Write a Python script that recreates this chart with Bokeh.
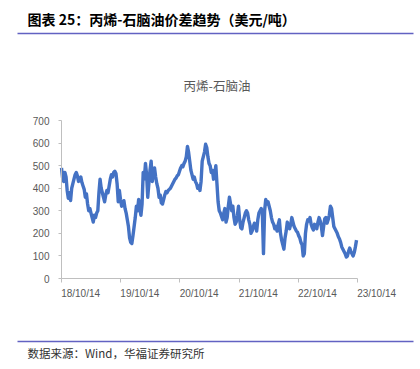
import pandas as pd
from bokeh.plotting import figure
from bokeh.models import Range1d, FixedTicker, LinearAxis, DatetimeAxis, ColumnDataSource
from bokeh.core.properties import value
from bokeh.embed import file_html
from bokeh.resources import INLINE

# ---- data (weekly sampling) ----
start_date = "2018-10-14"
spread_values = [
    490, 445, 430, 470, 450, 390, 355, 380, 345, 400, 420, 440, 460, 470, 455, 430, 440, 450, 425, 410,
    395, 360, 375, 330, 300, 310, 290, 270, 250, 280, 270, 290, 300, 380, 440, 400, 380, 360, 340, 370,
    390, 380, 410, 440, 460, 450, 470, 475, 465, 420, 340, 390, 350, 320, 330, 345, 310, 290, 260, 230,
    180, 160, 155, 190, 230, 270, 320, 300, 350, 310, 280, 330, 470, 440, 510, 460, 360, 420, 480, 520,
    430, 470, 490, 450, 420, 400, 360, 370, 335, 330, 350, 370, 385, 380, 390, 395, 400, 410, 420, 430,
    440, 445, 455, 460, 475, 490, 500, 495, 510, 520, 540, 585, 560, 520, 480, 460, 440, 450, 430, 420,
    400, 410, 390, 430, 520, 540, 560, 595, 580, 540, 510, 500, 470, 480, 440, 460, 500, 420, 340, 300,
    290, 275, 260, 290, 310, 250, 270, 320, 360, 330, 300, 320, 270, 240, 250, 280, 320, 260, 225, 220,
    250, 270, 290, 300, 290, 260, 240, 200, 210, 230, 245, 230, 210, 260, 290, 300, 310, 290, 110, 300,
    350, 330, 340, 320, 300, 270, 250, 240, 220, 230, 210, 240, 260, 200, 170, 150, 130, 180, 210, 250,
    230, 220, 240, 270, 250, 230, 220, 210, 205, 190, 180, 160, 150, 100, 110, 200, 240, 260, 255, 270,
    240, 225, 215, 240, 230, 220, 250, 270, 255, 230, 190, 230, 265, 270, 245, 260, 280, 320, 310, 270,
    230, 220, 210, 200, 185, 175, 160, 140, 130, 120, 110, 95, 100, 120, 135, 120, 110, 100, 115, 140,
    170,
]
dates = pd.date_range(start_date, periods=len(spread_values), freq="7D")

x_tick_dates = ["2018-10-14", "2019-10-14", "2020-10-14",
                "2021-10-14", "2022-10-14", "2023-10-14"]
x_tick_labels = ["18/10/14", "19/10/14", "20/10/14",
                 "21/10/14", "22/10/14", "23/10/14"]
y_ticks = [0, 100, 200, 300, 400, 500, 600, 700]

main_title = "图表 25：丙烯-石脑油价差趋势（美元/吨）"
chart_title = "丙烯-石脑油"
source_text = "数据来源：Wind，华福证券研究所"

# ---- page geometry ----
W, H = 420, 369
AX_LEFT, AX_RIGHT = 61, 357     # page x of first / last date tick
AX_TOP, AX_BOTTOM = 120, 278    # page y of 700 / 0

CJK = "Noto Sans CJK SC"
AX = "#BFBFBF"
LBL = "#595959"
FONT = "Liberation Sans"
RULE = "#6262C2"


def ms(d):
    return int(pd.Timestamp(d).value // 10**6)

tick_ms = [ms(d) for d in x_tick_dates]
x0, x1 = tick_ms[0], tick_ms[-1]
sx = (AX_RIGHT - AX_LEFT) / (x1 - x0)
sy = (AX_BOTTOM - AX_TOP) / (y_ticks[-1] - y_ticks[0])
x_range = Range1d(x0 - AX_LEFT / sx, x0 + (W - AX_LEFT) / sx)
y_range = Range1d(y_ticks[0] - (H - AX_BOTTOM) / sy, y_ticks[-1] + AX_TOP / sy)

p = figure(width=W, height=H, output_backend="svg", toolbar_location=None,
           x_axis_type=None, y_axis_location=None,
           x_range=x_range, y_range=y_range,
           min_border=0, min_border_left=0, min_border_right=0,
           min_border_top=0, min_border_bottom=0)
p.outline_line_color = None
p.xgrid.grid_line_color = None
p.ygrid.grid_line_color = None
p.extra_x_ranges = {"page": Range1d(0, W)}
p.extra_y_ranges = {"page": Range1d(H, 0)}

# ---- data line ----
src = ColumnDataSource(dict(date=dates, v=spread_values))
p.line("date", "v", source=src, line_color="#4472C4", line_width=3.4,
       line_join="round")

# ---- axes (fixed inside the canvas) ----
yax = LinearAxis(ticker=FixedTicker(ticks=y_ticks), fixed_location=x0,
                 bounds=(y_ticks[0], y_ticks[-1]))
yax.axis_line_color = AX
yax.major_tick_line_color = AX
yax.major_tick_in = 0
yax.major_tick_out = 3
yax.minor_tick_line_color = None
yax.major_label_text_color = LBL
yax.major_label_text_font = FONT
yax.major_label_text_font_size = "10px"
yax.major_label_standoff = 9
p.add_layout(yax, "left")

xax = DatetimeAxis(ticker=FixedTicker(ticks=[], minor_ticks=tick_ms),
                   fixed_location=0, bounds=(x0, x1))
xax.axis_line_color = AX
xax.major_tick_line_color = None
xax.minor_tick_line_color = AX
xax.minor_tick_in = 0
xax.minor_tick_out = 4
p.add_layout(xax, "below")

offset = int(118 * 86400000)   # Excel places each date label starting at its tick
lab_ms = [t + offset for t in tick_ms]
xlab = DatetimeAxis(ticker=FixedTicker(ticks=lab_ms), fixed_location=0)
xlab.axis_line_color = None
xlab.major_tick_line_color = None
xlab.minor_tick_line_color = None
xlab.major_tick_out = 0
xlab.major_tick_in = 0
xlab.major_label_overrides = {t: s for t, s in zip(lab_ms, x_tick_labels)}
xlab.major_label_text_color = LBL
xlab.major_label_text_font = FONT
xlab.major_label_text_font_size = "10px"
xlab.major_label_standoff = 9
p.add_layout(xlab, "below")

# ---- header / footer decorations (page coordinates) ----
pg = dict(x_range_name="page", y_range_name="page")
p.text(x=[27], y=[18], text=[main_title], text_font=value(CJK),
       text_font_style="bold", text_font_size="14px", text_color="#000000",
       text_baseline="middle", text_align="left", **pg)
p.segment(x0=[17], y0=[33], x1=[413], y1=[33], line_color=RULE, line_width=1.3, **pg)
p.text(x=[216.5], y=[85], text=[chart_title], text_font=value(CJK),
       text_font_size="12.5px", text_color=LBL,
       text_baseline="middle", text_align="center", **pg)
p.segment(x0=[17], y0=[341], x1=[413], y1=[341], line_color=RULE, line_width=1.3, **pg)
p.text(x=[27], y=[352], text=[source_text], text_font=value(CJK),
       text_font_size="11.5px", text_color="#333333",
       text_baseline="middle", text_align="left", **pg)

open("out.html", "w").write(file_html(p, INLINE))
